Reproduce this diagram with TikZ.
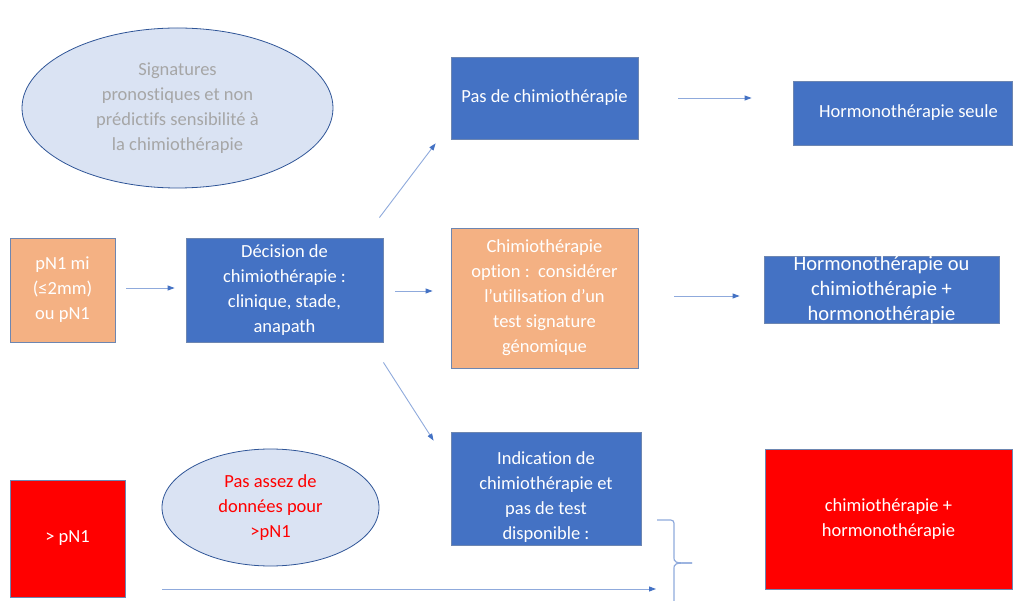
\documentclass[tikz,border=0pt]{standalone}
\usepackage{fontspec}
\setmainfont{Carlito}[Ligatures=NoCommon]
\usetikzlibrary{arrows.meta,shapes.geometric,calc}
\definecolor{boxblue}{HTML}{4472C4}
\definecolor{boxorange}{HTML}{F4B183}
\definecolor{boxred}{HTML}{FF0000}
\definecolor{ellfill}{HTML}{DAE3F3}
\definecolor{ellborder}{HTML}{2F5597}
\definecolor{bordc}{HTML}{2F528F}
\definecolor{arrowc}{HTML}{8FAADC}
\definecolor{headc}{HTML}{4472C4}
\definecolor{graytext}{HTML}{A6A6A6}
\begin{document}
\begin{tikzpicture}[x=1pt,y=-1pt,
  every node/.style={font=\fontsize{18.5}{25}\selectfont, align=center, inner sep=0pt, text=white},
  bluebox/.style={rectangle, draw=bordc!70, line width=0.8pt, fill=boxblue},
  orangebox/.style={rectangle, draw=bordc!70, line width=0.8pt, fill=boxorange},
  redbox/.style={rectangle, draw=bordc!70, line width=0.8pt, fill=boxred},
  infoell/.style={ellipse, draw=ellborder, line width=0.8pt, fill=ellfill},
  arr/.style={draw=arrowc, line width=0.9pt, -{Triangle[length=7pt,width=5pt,color=headc]}},
  bracestyle/.style={draw=arrowc, line width=1.2pt}]
\useasboundingbox (0,0) rectangle (1014,601);

\node[infoell, minimum width=311pt, minimum height=160pt, text=graytext] (ell1) at (177.5,108)
  {Signatures\\pronostiques et non\\prédictifs sensibilité à\\la chimiothérapie};
\node[orangebox, minimum width=105pt, minimum height=104pt] (pn) at (62.5,290)
  {pN1 mi\\(≤2mm)\\ou pN1};
\node[bluebox, minimum width=197pt, minimum height=104pt] (dec) at (284.5,290)
  {Décision de\\chimiothérapie :\\clinique, stade,\\anapath};
\node[bluebox, minimum width=187pt, minimum height=82pt] (pas) at (544.5,98)
  {Pas de chimiothérapie};
\node[orangebox, minimum width=187pt, minimum height=140pt] (opt) at (544.5,298)
  {Chimiothérapie\\option :\ \ considérer\\l’utilisation d’un\\test signature\\génomique};
\node[bluebox, minimum width=190pt, minimum height=113pt] (ind) at (546,488.5) {};
\node (indt) at ($(ind.center)+(0,9)$)
  {Indication de\\chimiothérapie et\\pas de test\\disponible :};
\node[bluebox, minimum width=219pt, minimum height=64pt] (hs) at (902.5,113)
  {\hspace*{12pt}Hormonothérapie seule};
\node[bluebox, minimum width=235pt, minimum height=66pt,
  font=\fontsize{20.5}{25}\selectfont] (ho) at (881.5,290)
  {Hormonothérapie ou\\chimiothérapie +\\hormonothérapie};
\node[redbox, minimum width=115pt, minimum height=117pt] (red1) at (67.5,538.5) {> pN1};
\node[infoell, minimum width=217pt, minimum height=117pt, text=boxred] (ell2) at (270.5,507.5)
  {Pas assez de\\données pour\\>pN1};
\node[redbox, minimum width=247pt, minimum height=140pt] (red2) at (888.5,519)
  {chimiothérapie +\\hormonothérapie};

\draw[arr] ($(pn.east)+(11,-2)$) -- ($(dec.west)+(-11,-2)$);
\draw[arr] ($(dec.east)+(12,1)$) -- ($(dec.east -| opt.west)+(-18,1)$);
\draw[arr] ($(dec.north east)+(-4,-20)$) -- ($(pas.south west)+(-15,4)$);
\draw[arr] ($(dec.south east)+(0,20)$) -- ($(ind.north west)+(-17,9)$);
\draw[arr] ($(pas.east)+(40,0)$) -- ($(pas.east -| hs.west)+(-41,0)$);
\draw[arr] ($(opt.east)+(36,-2)$) -- ($(opt.east -| ho.west)+(-24,-2)$);

\coordinate (bs) at (162,589);
\coordinate (be) at (656,589);
\draw[arr] (bs) -- (be);

\draw[bracestyle] (657,520) -- (667,520) .. controls (674,520) .. (674,527) -- (674,556)
  .. controls (674,563) .. (692,563);
\draw[bracestyle] (692,563) .. controls (674,563) .. (674,570) -- (674,603);
\end{tikzpicture}
\end{document}
